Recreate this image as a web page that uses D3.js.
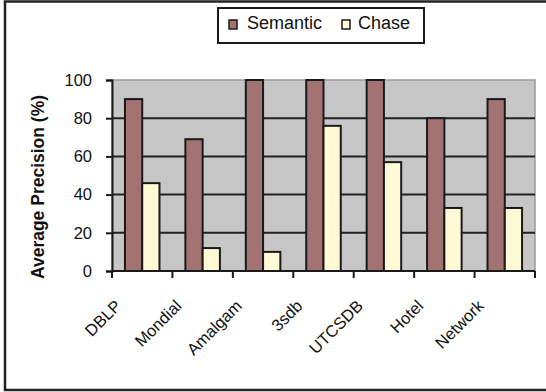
<!DOCTYPE html>
<html>
<head>
<meta charset="utf-8">
<script src="https://cdn.jsdelivr.net/npm/d3@7"></script>
<style>
  html, body { margin: 0; padding: 0; background: #fff; }
  svg { display: block; font-family: Arial, "Liberation Sans", sans-serif; }
</style>
</head>
<body>
<svg id="chart" width="546" height="392"></svg>
<script>
// Databases compared
const categories = ["DBLP", "Mondial", "Amalgam", "3sdb", "UTCSDB", "Hotel", "Network"];
// Average precision (%) per approach
const semantic = [90, 69, 100, 100, 100, 80, 90];
const chase = [46, 12, 10, 76, 57, 33, 33];
const seriesNames = ["Semantic", "Chase"];
const yTicks = [0, 20, 40, 60, 80, 100];

const colors = { Semantic: "#a37373", Chase: "#fffad6" };

const svg = d3.select("#chart");

// outer frame
svg.append("rect")
  .attr("x", 5).attr("y", 1.5)
  .attr("width", 560).attr("height", 388.5)
  .attr("fill", "none").attr("stroke", "#222").attr("stroke-width", 2.5);

const plot = { left: 112, right: 535, top: 80, bottom: 271 };

const x = d3.scaleBand().domain(categories).range([plot.left, plot.right]);
const x1 = d3.scaleBand().domain(seriesNames)
  .range([0, x.bandwidth()]).paddingOuter(0.75).paddingInner(0);
const y = d3.scaleLinear().domain([0, 100]).range([plot.bottom, plot.top]);

// plot background
svg.append("rect")
  .attr("x", plot.left).attr("y", plot.top)
  .attr("width", plot.right - plot.left).attr("height", plot.bottom - plot.top)
  .attr("fill", "#c6c6c6").attr("stroke", "#9a9a9a").attr("stroke-width", 1.5);

// gridlines
svg.append("g").selectAll("line")
  .data(yTicks.filter(d => d > 0 && d < 100))
  .join("line")
  .attr("x1", plot.left).attr("x2", plot.right)
  .attr("y1", d => y(d)).attr("y2", d => y(d))
  .attr("stroke", "#222").attr("stroke-width", 2);

// bars
const rows = categories.map((c, i) => ({ cat: c, Semantic: semantic[i], Chase: chase[i] }));
const groups = svg.append("g").selectAll("g")
  .data(rows).join("g")
  .attr("transform", d => `translate(${x(d.cat)},0)`);
groups.selectAll("rect")
  .data(d => seriesNames.map(s => ({ s, v: d[s] })))
  .join("rect")
  .attr("x", d => x1(d.s))
  .attr("y", d => y(d.v))
  .attr("width", x1.bandwidth())
  .attr("height", d => y(0) - y(d.v))
  .attr("fill", d => colors[d.s])
  .attr("stroke", "#1a1a1a").attr("stroke-width", 2);

// y axis
const yAxis = d3.axisLeft(y).tickValues(yTicks).tickSize(6).tickPadding(14);
const gy = svg.append("g").attr("transform", `translate(${plot.left},0)`).call(yAxis);
gy.select(".domain").attr("stroke", "#1a1a1a").attr("stroke-width", 2);
gy.selectAll(".tick line").attr("stroke", "#1a1a1a").attr("stroke-width", 2);
gy.selectAll(".tick text").attr("font-size", 16.5).attr("fill", "#111")
  .attr("font-family", "Arial, 'Liberation Sans', sans-serif");

// x axis (ticks between categories)
const bounds = categories.map(c => x(c)).concat([plot.right]);
svg.append("line")
  .attr("x1", plot.left).attr("x2", plot.right)
  .attr("y1", plot.bottom).attr("y2", plot.bottom)
  .attr("stroke", "#1a1a1a").attr("stroke-width", 2);
svg.append("g").selectAll("line")
  .data(bounds).join("line")
  .attr("x1", d => d).attr("x2", d => d)
  .attr("y1", plot.bottom).attr("y2", plot.bottom + 7)
  .attr("stroke", "#1a1a1a").attr("stroke-width", 2);

// rotated category labels
svg.append("g").selectAll("text")
  .data(categories).join("text")
  .attr("transform", d => `translate(${x(d) + x.bandwidth() / 2 - 20},307) rotate(-45)`)
  .attr("text-anchor", "end")
  .attr("font-size", 16.5).attr("fill", "#111")
  .text(d => d);

// y axis title
svg.append("text")
  .attr("transform", `translate(44,187) rotate(-90)`)
  .attr("text-anchor", "middle")
  .attr("font-size", 17.5).attr("font-weight", "bold").attr("fill", "#111")
  .text("Average Precision (%)");

// legend
const lg = svg.append("g");
lg.append("rect")
  .attr("x", 218).attr("y", 8).attr("width", 206).attr("height", 35)
  .attr("fill", "#fff").attr("stroke", "#1a1a1a").attr("stroke-width", 2);
const legendItems = [
  { name: seriesNames[0], mx: 229, tx: 247 },
  { name: seriesNames[1], mx: 342, tx: 358 }
];
legendItems.forEach(it => {
  lg.append("rect")
    .attr("x", it.mx).attr("y", 20).attr("width", 8).attr("height", 9)
    .attr("fill", colors[it.name]).attr("stroke", "#1a1a1a").attr("stroke-width", 1.5);
  lg.append("text")
    .attr("x", it.tx).attr("y", 28.5)
    .attr("font-size", 18).attr("fill", "#111")
    .text(it.name);
});
</script>
</body>
</html>
